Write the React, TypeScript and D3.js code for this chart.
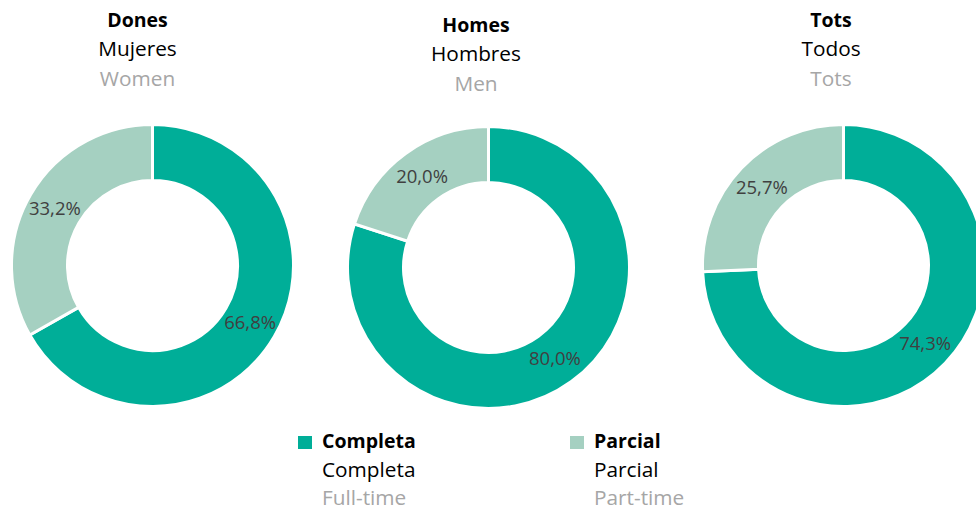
import React from "react";
import * as d3 from "d3";

const groups = ["Dones", "Homes", "Tots"];
const groupsEs = ["Mujeres", "Hombres", "Todos"];
const groupsEn = ["Women", "Men", "Tots"];
const categories = ["Completa", "Parcial"];
const categoriesEs = ["Completa", "Parcial"];
const categoriesEn = ["Full-time", "Part-time"];
const fullTime = [66.8, 80.0, 74.3];
const partTime = [33.2, 20.0, 25.7];

const colors = ["#00AE98", "#A5D0C1"];
const W = 976;
const H = 512;
const FONT = "'Open Sans', Lato, sans-serif";

const centers = [
  { x: 152.5, y: 265.5, tx: 137.5, ty: 27 },
  { x: 488.5, y: 267.5, tx: 476, ty: 32 },
  { x: 843.5, y: 265.5, tx: 831, ty: 27 },
];

const fmt = (v: number) => v.toFixed(1).replace(".", ",") + "%";

export default function App() {
  const outerR = 141;
  const innerR = 85;
  const pie = d3.pie<number>().sort(null).value((d) => d);
  const arc = d3.arc<d3.PieArcDatum<number>>().innerRadius(innerR).outerRadius(outerR);
  const labelArc = d3
    .arc<d3.PieArcDatum<number>>()
    .innerRadius((innerR + outerR) / 2)
    .outerRadius((innerR + outerR) / 2);

  return (
    <svg width={W} height={H} style={{ position: "absolute", left: 0, top: 0 }}>
      <rect width={W} height={H} fill="#fff" />
      {groups.map((g, i) => {
        const c = centers[i];
        const arcs = pie([fullTime[i], partTime[i]]);
        return (
          <g key={g}>
            <g fontFamily={FONT} textAnchor="middle">
              <text x={c.tx} y={c.ty} fontSize={19.5} fontWeight="bold" fill="#000">{g}</text>
              <text x={c.tx} y={c.ty + 29} fontSize={20.8} fill="#000">{groupsEs[i]}</text>
              <text x={c.tx} y={c.ty + 59} fontSize={20.8} fill="#A6A6A6">{groupsEn[i]}</text>
            </g>
            <g transform={`translate(${c.x},${c.y})`}>
              {arcs.map((a, j) => (
                <path key={j} d={arc(a) || ""} fill={colors[j]} stroke="#fff" strokeWidth={3} />
              ))}
              {arcs.map((a, j) => {
                const [lx, ly] = labelArc.centroid(a);
                return (
                  <text
                    key={"l" + j}
                    x={lx}
                    y={ly}
                    dy="0.35em"
                    textAnchor="middle"
                    fontFamily={FONT}
                    fontSize={18.5}
                    fill="#404040"
                  >
                    {fmt(j === 0 ? fullTime[i] : partTime[i])}
                  </text>
                );
              })}
            </g>
          </g>
        );
      })}
      {categories.map((cat, j) => {
        const x = j === 0 ? 298 : 570;
        return (
          <g key={cat} fontFamily={FONT}>
            <rect x={x} y={436} width={14} height={13} fill={colors[j]} />
            <text x={x + 24} y={448} fontSize={19.5} fontWeight="bold" fill="#000">{cat}</text>
            <text x={x + 24} y={477} fontSize={20.8} fill="#000">{categoriesEs[j]}</text>
            <text x={x + 24} y={505} fontSize={20.8} fill="#A6A6A6">{categoriesEn[j]}</text>
          </g>
        );
      })}
    </svg>
  );
}
